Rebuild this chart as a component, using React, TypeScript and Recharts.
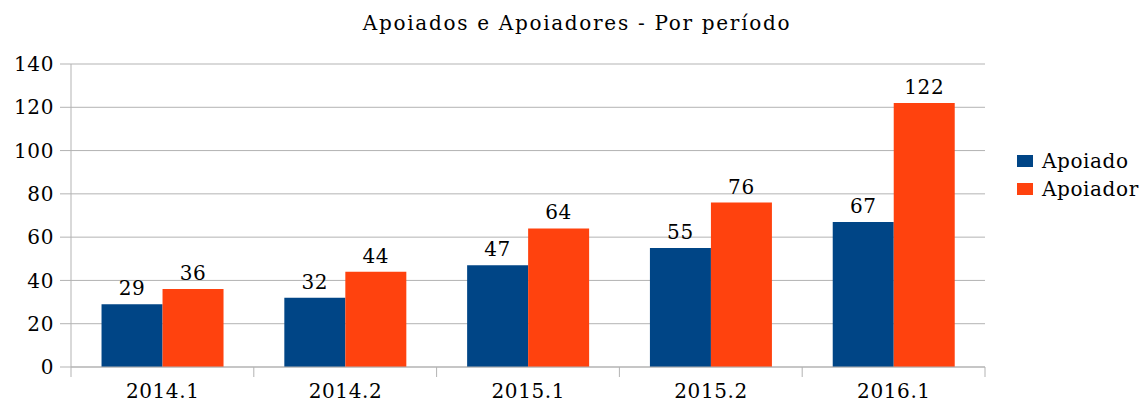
import React from 'react';
import { BarChart, Bar, XAxis, YAxis, CartesianGrid, Legend, LabelList } from 'recharts';

const categories = ['2014.1', '2014.2', '2015.1', '2015.2', '2016.1'];
const apoiado = [29, 32, 47, 55, 67];
const apoiador = [36, 44, 64, 76, 122];
const yTicks = [0, 20, 40, 60, 80, 100, 120, 140];

const data = categories.map((name, i) => ({ name, apoiado: apoiado[i], apoiador: apoiador[i] }));

const W = 1146;
const H = 403;
const MARGIN = { top: 64, right: 161, bottom: 0, left: 0 };
const Y_AXIS_W = 71;
const X_AXIS_H = 36;
const FONT = 'DejaVu Serif';
const FS = 20;
const SPACING = 0.6;
const GRID = '#b3b3b3';
const BLUE = '#004586';
const ORANGE = '#ff420e';

const band = (W - MARGIN.left - Y_AXIS_W - MARGIN.right) / categories.length;

const XTick = (props: any) => {
  const { x, y, payload, index } = props;
  const axisY = y - 8;
  const left = x - band / 2;
  return (
    <g>
      <line x1={left} x2={left} y1={axisY} y2={axisY + 10} stroke={GRID} />
      {index === categories.length - 1 && (
        <line x1={x + band / 2} x2={x + band / 2} y1={axisY} y2={axisY + 10} stroke={GRID} />
      )}
      <text
        x={x + SPACING / 2}
        y={axisY + 31}
        textAnchor="middle"
        fontFamily={FONT}
        fontSize={FS}
        letterSpacing={SPACING}
        fill="#000"
      >
        {payload.value}
      </text>
    </g>
  );
};

const LegendBox = (props: any) => {
  const { payload = [] } = props;
  return (
    <div style={{ fontFamily: FONT, fontSize: FS, letterSpacing: SPACING, color: '#000' }}>
      {payload.map((entry: any) => (
        <div key={entry.value} style={{ display: 'flex', alignItems: 'center', height: 28 }}>
          <span
            style={{ display: 'inline-block', width: 16, height: 12, background: entry.color, marginRight: 9 }}
          />
          <span>{entry.value}</span>
        </div>
      ))}
    </div>
  );
};

export default function App() {
  return (
    <div style={{ position: 'absolute', left: 0, top: 0, width: W, height: H, background: '#fff' }}>
      <div
        style={{
          position: 'absolute',
          top: 11,
          left: 0,
          width: W,
          textAlign: 'center',
          fontFamily: FONT,
          fontSize: FS,
          letterSpacing: 1.7,
          color: '#000',
          paddingLeft: 8,
          boxSizing: 'border-box',
        }}
      >
        Apoiados e Apoiadores - Por período
      </div>
      <BarChart
        width={W}
        height={H}
        data={data}
        margin={MARGIN}
        barCategoryGap="16.7%"
        barGap={0}
      >
        <CartesianGrid horizontal vertical={false} stroke={GRID} />
        <XAxis
          dataKey="name"
          height={X_AXIS_H}
          axisLine={{ stroke: GRID }}
          tickLine={false}
          tick={<XTick />}
          interval={0}
        />
        <YAxis
          domain={[0, 140]}
          ticks={yTicks}
          interval={0}
          width={Y_AXIS_W}
          axisLine={{ stroke: GRID }}
          tickLine={{ stroke: GRID }}
          tickSize={11}
          tickMargin={6}
          tick={{ fill: '#000', fontFamily: FONT, fontSize: FS, letterSpacing: SPACING }}
        />
        <YAxis
          yAxisId="frame"
          orientation="right"
          domain={[0, 140]}
          width={0}
          tick={false}
          tickLine={false}
          axisLine={{ stroke: GRID }}
        />
        <Legend
          layout="vertical"
          align="center"
          verticalAlign="middle"
          content={<LegendBox />}
          wrapperStyle={{ left: 1017, top: 147, width: 130 }}
        />
        <Bar dataKey="apoiado" name="Apoiado" fill={BLUE} isAnimationActive={false}>
          <LabelList
            dataKey="apoiado"
            position="top"
            offset={9}
            fill="#000"
            fontFamily={FONT}
            fontSize={FS}
            letterSpacing={SPACING}
          />
        </Bar>
        <Bar dataKey="apoiador" name="Apoiador" fill={ORANGE} isAnimationActive={false}>
          <LabelList
            dataKey="apoiador"
            position="top"
            offset={9}
            fill="#000"
            fontFamily={FONT}
            fontSize={FS}
            letterSpacing={SPACING}
          />
        </Bar>
      </BarChart>
    </div>
  );
}
